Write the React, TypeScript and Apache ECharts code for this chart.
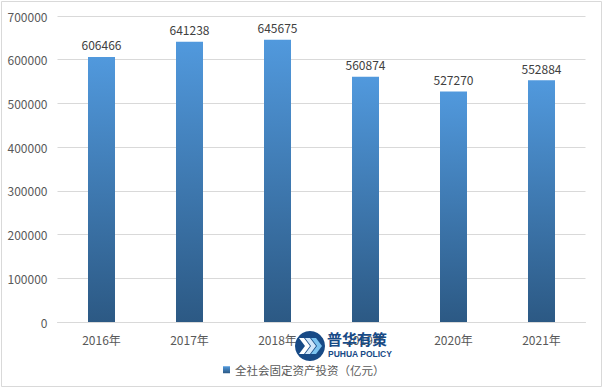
import React, { useEffect, useRef } from "react";
import * as echarts from "echarts";

const categories = ["2016年", "2017年", "2018年", "2019年", "2020年", "2021年"];
const values = [606466, 641238, 645675, 560874, 527270, 552884];
const seriesName = "全社会固定资产投资（亿元）";

const FONT = "'Noto Sans CJK SC', 'Noto Sans', sans-serif";

function chevron(x: number, y: number, fill: string) {
  return {
    type: "polygon",
    shape: {
      points: [
        [x, y - 8],
        [x + 5, y - 8],
        [x + 11, y],
        [x + 5, y + 8],
        [x, y + 8],
        [x + 6, y],
      ],
    },
    style: { fill },
    z: 102,
  };
}

export default function App() {
  const ref = useRef<HTMLDivElement>(null);
  useEffect(() => {
    if (!ref.current) return;
    const chart = echarts.init(ref.current, undefined, { renderer: "svg" });
    const grad = new echarts.graphic.LinearGradient(0, 0, 0, 1, [
      { offset: 0, color: "#5199dd" },
      { offset: 1, color: "#2c5984" },
    ]);
    chart.setOption({
      animation: false,
      backgroundColor: "#ffffff",
      grid: { left: 57.5, right: 18.5, top: 16, bottom: 67, containLabel: false },
      legend: {
        data: [seriesName],
        left: 218,
        top: 359,
        icon: "rect",
        itemWidth: 7,
        itemHeight: 7,
        itemGap: 4,
        textStyle: { color: "#595959", fontSize: 11.5, fontFamily: FONT },
      },
      xAxis: {
        type: "category",
        data: categories,
        axisTick: { show: false },
        axisLine: { lineStyle: { color: "#d9d9d9", width: 1 } },
        axisLabel: { color: "#595959", fontSize: 12, fontFamily: FONT, margin: 11 },
      },
      yAxis: {
        type: "value",
        min: 0,
        max: 700000,
        interval: 100000,
        axisLine: { show: false },
        axisTick: { show: false },
        axisLabel: {
          color: "#595959",
          fontSize: 12,
          fontFamily: FONT,
          margin: 10,
          formatter: (v: number) => String(v),
        },
        splitLine: { lineStyle: { color: "#d9d9d9", width: 1 } },
      },
      series: [
        {
          name: seriesName,
          type: "bar",
          data: values,
          barWidth: 27,
          itemStyle: { color: grad },
          label: {
            show: true,
            position: "top",
            distance: 6,
            color: "#404040",
            fontSize: 12,
            fontFamily: FONT,
          },
        },
      ],
      graphic: [
        {
          type: "rect",
          shape: { x: 1.5, y: 1.5, width: 600, height: 385 },
          style: { fill: "none", stroke: "#d9d9d9", lineWidth: 1 },
          silent: true,
        },
        {
          type: "circle",
          shape: { cx: 310, cy: 346, r: 15 },
          style: { fill: "#174a86" },
          z: 101,
        },
        chevron(299, 346, "#ffffff"),
        chevron(305, 346, "#cfe6fa"),
        chevron(311, 346, "#7cc3f0"),
        {
          type: "text",
          x: 327,
          y: 331,
          style: {
            text: "普华有策",
            fill: "#174a86",
            font: "bold 15px 'Noto Sans CJK SC', sans-serif",
          },
          z: 101,
        },
        {
          type: "text",
          x: 328,
          y: 349,
          style: {
            text: "PUHUA POLICY",
            fill: "#174a86",
            font: "bold 8.5px 'Liberation Sans', sans-serif",
          },
          z: 101,
        },
      ],
    });
    return () => chart.dispose();
  }, []);
  return (
    <div
      ref={ref}
      style={{ position: "fixed", left: 0, top: 0, width: 604, height: 389 }}
    />
  );
}
